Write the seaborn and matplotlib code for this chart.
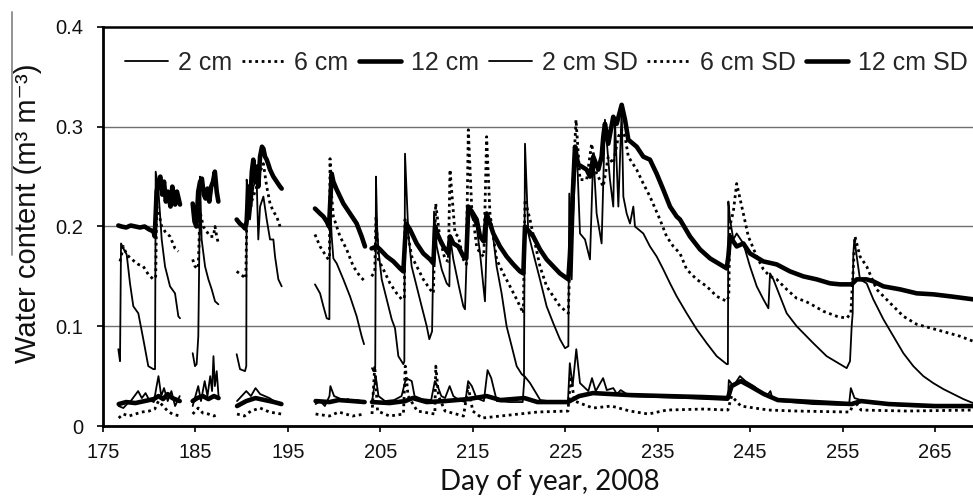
import numpy as np
import pandas as pd
import seaborn as sns
import matplotlib
matplotlib.use("Agg")
import matplotlib.pyplot as plt
from matplotlib.lines import Line2D

# ---------------------------------------------------------------------------
# Volumetric water content at three depths (means and standard deviations).
# Each series is a list of (day of year, value) vertices; None marks a gap in
# the logging record.
# ---------------------------------------------------------------------------
mean_2cm = [
    (176.66, 0.077), (176.84, 0.065), (176.95, 0.183), (177.20, 0.178), (177.56, 0.172),
    (177.92, 0.143), (178.28, 0.120), (178.82, 0.113), (179.36, 0.087), (179.90, 0.060),
    (180.45, 0.057), (180.63, 0.057), (180.70, 0.255), (180.99, 0.237), (181.35, 0.187),
    (181.71, 0.160), (182.25, 0.140), (182.79, 0.133), (183.15, 0.110), (183.33, 0.108),
    None,
    (184.70, 0.073), (184.95, 0.060), (185.13, 0.062), (185.31, 0.090), (185.45, 0.200),
    (185.49, 0.250), (185.67, 0.187), (186.04, 0.160), (186.40, 0.147), (186.76, 0.137),
    (187.12, 0.125), (187.48, 0.122),
    None,
    (189.46, 0.072), (189.82, 0.057), (190.36, 0.055), (190.50, 0.060), (190.54, 0.247),
    (190.72, 0.233), (190.90, 0.207), (191.26, 0.240), (191.62, 0.247), (191.80, 0.187),
    (191.99, 0.220), (192.35, 0.230), (192.71, 0.207), (193.07, 0.187), (193.43, 0.187),
    (193.61, 0.170), (193.97, 0.147), (194.33, 0.140),
    None,
    (197.93, 0.142), (198.48, 0.133), (198.84, 0.120), (199.20, 0.108), (199.49, 0.107),
    (199.56, 0.225), (199.74, 0.190), (199.92, 0.168), (200.28, 0.163), (200.64, 0.155),
    (201.00, 0.147), (201.72, 0.130), (202.44, 0.110), (202.98, 0.090), (203.24, 0.082),
    None,
    (204.10, 0.058), (204.25, 0.055), (204.45, 0.060), (204.53, 0.250), (204.65, 0.200),
    (204.79, 0.177), (205.15, 0.147), (205.69, 0.127), (206.23, 0.107), (206.59, 0.098),
    (206.95, 0.070), (207.49, 0.062), (207.60, 0.065), (207.67, 0.273), (208.03, 0.193),
    (208.39, 0.160), (208.93, 0.140), (209.47, 0.120), (210.02, 0.100), (210.30, 0.087),
    (210.60, 0.095), (210.81, 0.215), (211.10, 0.180), (211.64, 0.157), (212.18, 0.143),
    (212.47, 0.140), (212.54, 0.190), (212.90, 0.167), (213.50, 0.140), (213.98, 0.120),
    (214.16, 0.117), (214.52, 0.220), (214.88, 0.210), (215.42, 0.200), (215.79, 0.173),
    (216.15, 0.140), (216.32, 0.125), (216.57, 0.207), (217.04, 0.203), (217.58, 0.160),
    (218.12, 0.133), (218.66, 0.100), (219.21, 0.080), (219.75, 0.060), (220.29, 0.052),
    (220.54, 0.050), (220.65, 0.283), (221.01, 0.193), (221.55, 0.173), (222.27, 0.147),
    (222.99, 0.120), (223.71, 0.103), (224.43, 0.087), (224.98, 0.078), (225.34, 0.080),
    (225.44, 0.233), (225.70, 0.147), (225.99, 0.240), (226.24, 0.280), (226.60, 0.193),
    (227.14, 0.187), (227.68, 0.167), (228.04, 0.273), (228.40, 0.213), (228.94, 0.183),
    (229.30, 0.307), (229.84, 0.247), (230.20, 0.220), (230.38, 0.307), (230.75, 0.220),
    (231.11, 0.317), (231.29, 0.230), (231.65, 0.213), (232.01, 0.203), (232.37, 0.220),
    (232.55, 0.200), (233.45, 0.193), (234.17, 0.180), (234.89, 0.170), (235.61, 0.157),
    (236.34, 0.143), (237.06, 0.130), (238.14, 0.113), (239.22, 0.097), (240.31, 0.083),
    (241.39, 0.070), (242.47, 0.062), (242.60, 0.062), (242.65, 0.225), (242.83, 0.207),
    (243.19, 0.187), (243.55, 0.193), (244.27, 0.183), (244.99, 0.160), (245.72, 0.140),
    (246.44, 0.127), (246.98, 0.118), (247.16, 0.153), (247.52, 0.147), (248.24, 0.130),
    (248.96, 0.113), (250.04, 0.100), (251.84, 0.083), (253.28, 0.070), (254.73, 0.062),
    (255.45, 0.058), (255.81, 0.065), (255.99, 0.100), (256.10, 0.113), (256.17, 0.173),
    (256.28, 0.187), (256.89, 0.147), (257.61, 0.143), (258.33, 0.127), (259.42, 0.107),
    (260.50, 0.090), (261.58, 0.073), (262.66, 0.060), (263.74, 0.050), (264.82, 0.043),
    (265.91, 0.037), (266.99, 0.032), (268.07, 0.027), (269.12, 0.023),
]

mean_6cm = [
    (176.84, 0.165), (177.20, 0.180), (177.56, 0.172), (178.00, 0.168), (178.40, 0.165),
    (178.82, 0.162), (179.36, 0.160), (179.90, 0.152), (180.45, 0.147), (180.70, 0.150),
    (180.81, 0.220), (181.00, 0.215), (181.35, 0.200), (181.71, 0.195), (182.25, 0.190),
    (182.79, 0.178), (183.15, 0.175),
    None,
    (184.70, 0.167), (184.95, 0.160), (185.30, 0.158), (185.49, 0.215), (185.85, 0.200),
    (186.22, 0.195), (186.58, 0.190), (186.94, 0.190), (187.12, 0.200), (187.30, 0.190),
    (187.48, 0.183),
    None,
    (189.46, 0.155), (190.18, 0.150), (190.45, 0.148), (190.54, 0.200), (190.90, 0.220),
    (191.26, 0.230), (191.62, 0.240), (191.99, 0.255), (192.35, 0.263), (192.71, 0.240),
    (193.07, 0.223), (193.43, 0.215), (193.79, 0.210), (194.15, 0.200),
    None,
    (197.93, 0.192), (198.48, 0.180), (199.02, 0.172), (199.38, 0.167), (199.50, 0.170),
    (199.56, 0.268), (199.74, 0.230), (199.92, 0.210), (200.28, 0.200), (200.64, 0.190),
    (201.36, 0.177), (202.08, 0.160), (202.80, 0.150), (203.34, 0.145),
    None,
    (204.06, 0.150), (204.40, 0.155), (204.53, 0.210), (204.79, 0.167), (205.33, 0.157),
    (206.05, 0.143), (206.77, 0.133), (207.31, 0.127), (207.60, 0.128), (207.67, 0.207),
    (208.03, 0.190), (208.39, 0.170), (209.11, 0.157), (209.65, 0.147), (210.38, 0.137),
    (210.74, 0.133), (210.99, 0.223), (211.46, 0.187), (212.00, 0.167), (212.36, 0.165),
    (212.54, 0.257), (213.08, 0.193), (213.44, 0.190), (213.98, 0.167), (214.30, 0.162),
    (214.52, 0.297), (214.88, 0.220), (215.42, 0.180), (215.79, 0.173), (216.20, 0.170),
    (216.50, 0.290), (216.86, 0.213), (217.58, 0.167), (218.30, 0.153), (219.03, 0.140),
    (219.75, 0.127), (220.47, 0.113), (220.65, 0.227), (221.19, 0.207), (222.27, 0.160),
    (222.99, 0.140), (223.71, 0.130), (224.43, 0.120), (225.34, 0.113), (225.60, 0.200),
    (226.17, 0.307), (226.60, 0.247), (227.32, 0.247), (227.86, 0.283), (228.40, 0.253),
    (229.12, 0.240), (229.66, 0.270), (230.20, 0.263), (230.75, 0.290), (231.11, 0.297),
    (231.47, 0.290), (231.83, 0.270), (232.73, 0.257), (233.45, 0.243), (234.17, 0.230),
    (235.25, 0.207), (235.97, 0.190), (236.70, 0.180), (237.42, 0.173), (238.14, 0.157),
    (239.22, 0.147), (240.31, 0.140), (241.39, 0.130), (242.47, 0.125), (242.70, 0.130),
    (242.80, 0.200), (243.19, 0.215), (243.55, 0.243), (244.27, 0.213), (244.81, 0.190),
    (245.72, 0.170), (246.44, 0.157), (247.16, 0.150), (247.88, 0.147), (248.96, 0.137),
    (250.04, 0.128), (251.00, 0.125), (252.00, 0.120), (252.93, 0.115), (254.37, 0.110),
    (255.45, 0.108), (255.90, 0.113), (256.35, 0.190), (256.89, 0.170), (257.61, 0.160),
    (258.69, 0.137), (260.50, 0.120), (261.58, 0.110), (263.02, 0.102), (265.00, 0.097),
    (267.71, 0.090), (269.12, 0.085),
]

mean_12cm = [
    (176.66, 0.201), (177.00, 0.200), (177.50, 0.199), (178.00, 0.201), (178.50, 0.200),
    (179.00, 0.199), (179.50, 0.200), (180.00, 0.197), (180.45, 0.195), (180.60, 0.190),
    (180.80, 0.235), (181.00, 0.245), (181.20, 0.250), (181.40, 0.232), (181.60, 0.245),
    (181.80, 0.225), (182.00, 0.235), (182.30, 0.220), (182.50, 0.240), (182.80, 0.222),
    (183.00, 0.235), (183.33, 0.222),
    None,
    (184.70, 0.223), (184.90, 0.205), (185.10, 0.200), (185.30, 0.235), (185.50, 0.245),
    (185.70, 0.248), (185.90, 0.232), (186.10, 0.228), (186.30, 0.238), (186.50, 0.225),
    (186.70, 0.240), (186.90, 0.245), (187.10, 0.255), (187.30, 0.235), (187.48, 0.225),
    None,
    (189.46, 0.207), (189.80, 0.203), (190.18, 0.200), (190.36, 0.198), (190.54, 0.205),
    (190.72, 0.240), (190.90, 0.220), (191.10, 0.255), (191.26, 0.267), (191.44, 0.245),
    (191.62, 0.260), (191.80, 0.240), (191.99, 0.270), (192.20, 0.280), (192.35, 0.278),
    (192.53, 0.270), (192.71, 0.267), (192.90, 0.262), (193.07, 0.257), (193.43, 0.250),
    (193.79, 0.245), (194.15, 0.240), (194.33, 0.238),
    None,
    (197.93, 0.218), (198.48, 0.213), (198.84, 0.210), (199.20, 0.205), (199.45, 0.200),
    (199.56, 0.220), (199.74, 0.253), (199.92, 0.245), (200.28, 0.237), (200.64, 0.230),
    (201.00, 0.223), (201.72, 0.213), (202.44, 0.203), (202.98, 0.190), (203.34, 0.180),
    None,
    (204.06, 0.178), (204.61, 0.180), (204.97, 0.177), (205.69, 0.170), (206.41, 0.165),
    (207.13, 0.158), (207.49, 0.155), (207.67, 0.185), (207.80, 0.203), (208.21, 0.197),
    (208.93, 0.183), (209.65, 0.173), (210.38, 0.167), (210.74, 0.163), (210.92, 0.200),
    (211.28, 0.190), (211.82, 0.180), (212.36, 0.173), (212.54, 0.190), (212.90, 0.183),
    (213.44, 0.180), (213.98, 0.170), (214.30, 0.168), (214.52, 0.220), (214.90, 0.215),
    (215.42, 0.207), (215.79, 0.190), (216.20, 0.185), (216.50, 0.213), (217.22, 0.193),
    (217.94, 0.180), (218.66, 0.170), (219.39, 0.162), (220.11, 0.155), (220.47, 0.153),
    (220.65, 0.200), (221.55, 0.190), (222.27, 0.177), (222.99, 0.167), (223.71, 0.160),
    (224.43, 0.153), (225.34, 0.147), (225.50, 0.170), (226.06, 0.280), (226.40, 0.262),
    (226.80, 0.260), (227.32, 0.257), (227.68, 0.250), (228.04, 0.270), (228.58, 0.257),
    (228.94, 0.270), (229.12, 0.290), (229.30, 0.303), (229.66, 0.283), (230.20, 0.310),
    (230.57, 0.303), (231.11, 0.322), (231.47, 0.307), (231.83, 0.287), (232.73, 0.280),
    (233.45, 0.270), (234.17, 0.267), (234.89, 0.253), (235.61, 0.237), (236.34, 0.220),
    (237.06, 0.210), (237.42, 0.207), (238.50, 0.190), (239.59, 0.177), (240.67, 0.168),
    (241.75, 0.162), (242.47, 0.158), (242.65, 0.170), (242.83, 0.190), (243.19, 0.185),
    (243.55, 0.180), (244.27, 0.183), (244.99, 0.173), (246.44, 0.165), (247.88, 0.162),
    (249.32, 0.155), (250.76, 0.150), (252.21, 0.147), (253.65, 0.143), (254.73, 0.142),
    (255.99, 0.142), (256.53, 0.147), (257.61, 0.147), (258.33, 0.145), (259.42, 0.140),
    (261.22, 0.137), (263.02, 0.133), (264.82, 0.132), (266.63, 0.130), (269.12, 0.127),
]

sd_2cm = [
    (176.70, 0.020), (177.20, 0.018), (177.60, 0.022), (178.00, 0.025), (178.40, 0.030),
    (178.80, 0.035), (179.20, 0.028), (179.60, 0.033), (180.00, 0.026), (180.50, 0.024),
    (180.80, 0.040), (181.00, 0.050), (181.30, 0.030), (181.60, 0.038), (182.00, 0.025),
    (182.40, 0.035), (182.80, 0.020), (183.30, 0.030),
    None,
    (184.70, 0.020), (185.00, 0.030), (185.30, 0.040), (185.60, 0.025), (186.00, 0.045),
    (186.30, 0.030), (186.60, 0.050), (186.80, 0.035), (186.95, 0.070), (187.10, 0.040),
    (187.30, 0.055), (187.50, 0.030),
    None,
    (189.50, 0.025), (190.00, 0.030), (190.50, 0.035), (191.00, 0.030), (191.50, 0.038),
    (192.00, 0.032), (192.50, 0.030), (193.00, 0.028), (193.50, 0.025), (194.30, 0.022),
    None,
    (198.00, 0.022), (198.50, 0.025), (199.00, 0.020), (199.50, 0.030), (199.60, 0.040),
    (200.00, 0.030), (200.50, 0.028), (201.00, 0.025), (201.50, 0.027), (202.00, 0.024),
    (202.50, 0.026), (203.30, 0.024),
    None,
    (204.10, 0.024), (204.50, 0.050), (204.80, 0.030), (205.50, 0.025), (206.50, 0.026),
    (207.30, 0.030), (207.70, 0.045), (208.00, 0.047), (208.40, 0.045), (208.70, 0.030),
    (209.50, 0.027), (210.50, 0.026), (210.90, 0.045), (211.20, 0.040), (211.60, 0.030),
    (212.00, 0.028), (212.50, 0.040), (212.90, 0.030), (213.50, 0.026), (214.20, 0.024),
    (214.50, 0.045), (214.90, 0.040), (215.40, 0.028), (216.20, 0.025), (216.60, 0.056),
    (217.00, 0.048), (217.60, 0.025), (219.00, 0.024), (220.40, 0.024), (220.60, 0.050),
    (221.20, 0.043), (222.30, 0.026), (224.00, 0.024), (225.30, 0.025), (225.50, 0.063),
    (225.80, 0.040), (226.20, 0.077), (226.60, 0.043), (227.50, 0.035), (227.90, 0.048),
    (228.30, 0.035), (229.10, 0.048), (229.50, 0.036), (230.20, 0.038), (230.60, 0.032),
    (231.00, 0.036), (232.00, 0.030), (235.00, 0.029), (238.00, 0.028), (242.60, 0.026),
    (242.70, 0.046), (243.20, 0.040), (243.90, 0.050), (244.50, 0.045), (245.40, 0.040),
    (246.80, 0.030), (247.20, 0.035), (247.40, 0.028), (248.20, 0.025), (251.80, 0.022),
    (255.70, 0.021), (255.90, 0.038), (256.30, 0.028), (258.00, 0.023), (262.00, 0.020),
    (266.00, 0.019), (269.12, 0.019),
]

sd_6cm = [
    (176.70, 0.008), (177.20, 0.012), (177.80, 0.010), (178.50, 0.012), (179.20, 0.014),
    (180.00, 0.015), (180.60, 0.017), (181.00, 0.025), (181.50, 0.020), (182.00, 0.015),
    (182.50, 0.012), (183.30, 0.010),
    None,
    (184.70, 0.012), (185.30, 0.018), (185.80, 0.013), (186.40, 0.012), (187.00, 0.010),
    (187.50, 0.012),
    None,
    (189.50, 0.012), (190.30, 0.010), (191.00, 0.015), (192.00, 0.018), (193.00, 0.014),
    (194.30, 0.012),
    None,
    (198.00, 0.012), (199.50, 0.010), (200.50, 0.014), (202.00, 0.010), (203.30, 0.012),
    None,
    (204.10, 0.012), (204.40, 0.060), (204.70, 0.015), (206.00, 0.010), (207.50, 0.012),
    (207.70, 0.060), (208.00, 0.030), (209.00, 0.015), (210.90, 0.012), (211.00, 0.060),
    (211.30, 0.030), (212.00, 0.015), (214.00, 0.010), (214.50, 0.040), (215.00, 0.015),
    (216.00, 0.008), (218.00, 0.010), (220.00, 0.012), (222.00, 0.014), (225.30, 0.015),
    (225.60, 0.050), (226.00, 0.025), (228.00, 0.018), (230.00, 0.020), (232.00, 0.015),
    (234.00, 0.012), (236.00, 0.016), (240.00, 0.017), (242.60, 0.016), (243.00, 0.030),
    (244.00, 0.020), (247.00, 0.016), (250.00, 0.015), (255.80, 0.014), (256.30, 0.025),
    (257.00, 0.016), (262.00, 0.015), (269.12, 0.016),
]

sd_12cm = [
    (176.70, 0.022), (177.50, 0.024), (178.50, 0.023), (179.50, 0.025), (180.50, 0.027),
    (181.00, 0.030), (181.50, 0.027), (182.00, 0.032), (182.50, 0.028), (183.30, 0.025),
    None,
    (184.70, 0.025), (185.20, 0.028), (185.80, 0.030), (186.40, 0.027), (187.00, 0.030),
    (187.50, 0.028),
    None,
    (189.50, 0.020), (190.50, 0.025), (191.50, 0.028), (192.50, 0.026), (193.50, 0.024),
    (194.30, 0.022),
    None,
    (198.00, 0.025), (199.50, 0.024), (200.50, 0.026), (202.00, 0.025), (203.30, 0.024),
    None,
    (204.10, 0.024), (206.00, 0.023), (207.70, 0.025), (208.50, 0.028), (210.00, 0.024),
    (212.00, 0.025), (214.50, 0.027), (216.50, 0.030), (218.00, 0.026), (220.60, 0.028),
    (222.00, 0.024), (225.30, 0.024), (226.50, 0.030), (228.00, 0.033), (230.00, 0.032),
    (232.00, 0.031), (236.00, 0.030), (240.00, 0.029), (242.60, 0.028), (243.00, 0.040),
    (244.00, 0.045), (245.00, 0.040), (246.50, 0.032), (248.00, 0.026), (252.00, 0.024),
    (256.00, 0.022), (257.00, 0.025), (260.00, 0.022), (265.00, 0.020), (269.12, 0.020),
]

labels = ["2 cm", "6 cm", "12 cm", "2 cm SD", "6 cm SD", "12 cm SD"]
series = [mean_2cm, mean_6cm, mean_12cm, sd_2cm, sd_6cm, sd_12cm]

x_ticks = [175, 185, 195, 205, 215, 225, 235, 245, 255, 265]
y_ticks = [0, 0.1, 0.2, 0.3, 0.4]
y_tick_labels = ["0", "0.1", "0.2", "0.3", "0.4"]


def to_frame(points):
    rows, seg = [], 0
    for p in points:
        if p is None:
            seg += 1
            continue
        rows.append((p[0], p[1], seg))
    return pd.DataFrame(rows, columns=["day", "value", "seg"])


sns.set_theme(style="white")
plt.rcParams["font.family"] = ["Liberation Sans", "DejaVu Sans"]

fig = plt.figure(figsize=(9.73, 4.98), dpi=100)
ax = fig.add_axes([103 / 973, 72 / 498, 870 / 973, 399 / 498])

thin = dict(color="black", lw=1.3, linestyle="-")
dotted = dict(color="black", lw=2.0, linestyle=(0, (1, 1.3)))
thick = dict(color="black", lw=3.3, linestyle="-")
styles = [thin, dotted, thick, thin, dotted, thick]

for pts, st in zip(series, styles):
    df = to_frame(pts)
    sns.lineplot(data=df, x="day", y="value", units="seg", estimator=None,
                 sort=False, legend=False, ax=ax, **st)

ax.set_xlim(175, 175 + 870 / 9.244)
ax.set_ylim(0, 0.4)
ax.set_xticks(x_ticks)
ax.set_xticklabels([str(t) for t in x_ticks])
ax.set_yticks(y_ticks)
ax.set_yticklabels(y_tick_labels)
ax.tick_params(axis="both", which="major", labelsize=14.5, length=4.5, width=1.2,
               direction="out", colors="black", bottom=True, left=True)
ax.tick_params(axis="x", pad=7.5)
ax.tick_params(axis="y", pad=9.5)
for lab in ax.get_xticklabels() + ax.get_yticklabels():
    lab.set_color("#111111")

ax.grid(False)
for yv in [0.1, 0.2, 0.3]:
    ax.axhline(yv, color="#6f6f6f", lw=1.0, zorder=0)

ax.spines["right"].set_visible(False)
ax.spines["top"].set_color("black")
ax.spines["top"].set_linewidth(1.8)
ax.spines["left"].set_color("black")
ax.spines["left"].set_linewidth(2.0)
ax.spines["bottom"].set_color("black")
ax.spines["bottom"].set_linewidth(2.0)

ax.set_xlabel("")
ax.set_ylabel("")
fig.text(28 / 973, 1 - 213 / 498, "Water content (m³ m⁻³)",
         rotation=90, ha="center", va="center", fontsize=21, color="#111111")
fig.text(549.5 / 973, 1 - 490 / 498, "Day of year, 2008", ha="center",
         va="baseline", fontsize=20, color="#111111", family=["Lato", "DejaVu Sans"])

handles = [Line2D([0], [0], **st) for st in styles]
ax.legend(handles, labels, loc="center", bbox_to_anchor=(0.51, 0.91), ncol=6,
          frameon=False, fontsize=18, handlelength=1.7, handletextpad=0.4,
          columnspacing=0.4, borderaxespad=0, borderpad=0)

# thin grey rule at the far left of the figure
fig.add_artist(Line2D([12 / 973, 12 / 973], [1 - 12 / 498, 1 - 255 / 498],
                      transform=fig.transFigure, color="#8a8a8a", lw=1.3))

fig.savefig("out.png", dpi=100)
